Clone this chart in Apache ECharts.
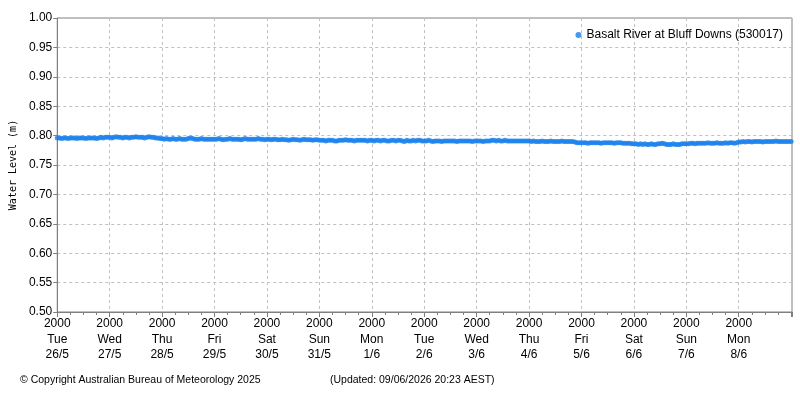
<!DOCTYPE html>
<html>
<head>
<meta charset="utf-8">
<script src="https://cdn.jsdelivr.net/npm/echarts@6/dist/echarts.min.js"></script>
<style>
  html, body { margin: 0; padding: 0; background: #fff; }
  #main { width: 800px; height: 400px; }
</style>
</head>
<body>
<div id="main"></div>
<script>
// x = hours after Tue 26/5 20:00, one reading per hour
var seriesName = 'Basalt River at Bluff Downs (530017)';
var dayNames = ['Tue', 'Wed', 'Thu', 'Fri', 'Sat', 'Sun', 'Mon', 'Tue', 'Wed', 'Thu', 'Fri', 'Sat', 'Sun', 'Mon'];
var dayDates = ['26/5', '27/5', '28/5', '29/5', '30/5', '31/5', '1/6', '2/6', '3/6', '4/6', '5/6', '6/6', '7/6', '8/6'];
var yTicks = [0.50, 0.55, 0.60, 0.65, 0.70, 0.75, 0.80, 0.85, 0.90, 0.95, 1.00];

var level = [
  // 26/5
  0.796,0.796,0.795,0.796,0.796,0.795,0.796,0.796,0.796,0.795,0.796,0.796,0.796,0.795,0.796,0.796,0.796,0.796,0.795,0.796,0.797,0.796,0.797,0.797,
  // 27/5
  0.797,0.796,0.797,0.798,0.797,0.797,0.796,0.797,0.797,0.796,0.797,0.797,0.798,0.797,0.797,0.797,0.796,0.797,0.798,0.797,0.797,0.796,0.796,0.795,
  // 28/5
  0.795,0.794,0.795,0.794,0.794,0.795,0.794,0.794,0.795,0.794,0.794,0.794,0.795,0.796,0.795,0.794,0.794,0.794,0.795,0.794,0.794,0.794,0.794,0.794,
  // 29/5
  0.794,0.794,0.795,0.794,0.793,0.794,0.794,0.795,0.794,0.794,0.794,0.794,0.793,0.794,0.795,0.794,0.794,0.794,0.794,0.794,0.795,0.794,0.794,0.793,
  // 30/5
  0.794,0.794,0.793,0.794,0.794,0.793,0.793,0.794,0.793,0.793,0.792,0.793,0.794,0.793,0.793,0.792,0.793,0.794,0.793,0.793,0.793,0.792,0.793,0.793,
  // 31/5
  0.792,0.792,0.792,0.791,0.792,0.792,0.792,0.791,0.791,0.792,0.792,0.792,0.793,0.792,0.792,0.792,0.791,0.792,0.792,0.792,0.792,0.792,0.791,0.792,
  // 1/6
  0.792,0.791,0.792,0.792,0.791,0.792,0.792,0.791,0.791,0.792,0.792,0.791,0.792,0.792,0.791,0.790,0.792,0.791,0.791,0.792,0.791,0.792,0.792,0.791,
  // 2/6
  0.791,0.791,0.792,0.791,0.790,0.791,0.791,0.791,0.790,0.791,0.791,0.791,0.791,0.791,0.791,0.790,0.791,0.791,0.791,0.791,0.791,0.791,0.790,0.791,
  // 3/6
  0.791,0.791,0.791,0.790,0.791,0.791,0.791,0.792,0.792,0.791,0.792,0.791,0.791,0.792,0.791,0.791,0.791,0.791,0.791,0.791,0.791,0.791,0.791,0.791,
  // 4/6
  0.791,0.790,0.791,0.790,0.790,0.790,0.791,0.790,0.790,0.790,0.791,0.790,0.790,0.790,0.790,0.791,0.790,0.790,0.790,0.790,0.790,0.789,0.788,0.788,
  // 5/6
  0.788,0.788,0.788,0.787,0.788,0.788,0.788,0.788,0.788,0.787,0.788,0.788,0.788,0.788,0.788,0.787,0.788,0.788,0.788,0.787,0.787,0.787,0.787,0.786,
  // 6/6
  0.786,0.786,0.785,0.786,0.785,0.786,0.785,0.785,0.786,0.785,0.785,0.786,0.786,0.787,0.786,0.785,0.785,0.785,0.786,0.785,0.785,0.785,0.786,0.786,
  // 7/6
  0.786,0.786,0.787,0.787,0.786,0.787,0.787,0.787,0.787,0.787,0.788,0.787,0.787,0.787,0.788,0.787,0.787,0.787,0.788,0.787,0.788,0.788,0.787,0.788,
  // 8/6
  0.789,0.789,0.790,0.789,0.790,0.790,0.789,0.790,0.790,0.790,0.790,0.789,0.790,0.790,0.790,0.790,0.790,0.791,0.790,0.790,0.790,0.790,0.790,0.790,
  // 9/6 20:00
  0.790
];

var points = [];
for (var i = 0; i < level.length; i++) {
  points.push([i, level[i]]);
}

var font = 'Liberation Sans';
var chart = echarts.init(document.getElementById('main'));

var option = {
  animation: false,
  backgroundColor: '#ffffff',
  textStyle: { fontFamily: font },
  grid: {
    show: true,
    left: 57,
    right: 8,
    top: 18,
    bottom: 88,
    borderColor: '#808080',
    borderWidth: 1
  },
  legend: {
    right: 12,
    top: 24,
    icon: 'circle',
    itemWidth: 6,
    itemHeight: 6,
    itemGap: 6,
    textStyle: { fontFamily: font, fontSize: 12, color: '#000' },
    data: [seriesName]
  },
  xAxis: {
    type: 'value',
    min: 0,
    max: 336.38,
    interval: 24,
    minorTick: { show: true, splitNumber: 4, length: 3, lineStyle: { color: '#808080' } },
    axisLine: { lineStyle: { color: '#808080' } },
    axisTick: { length: 5, lineStyle: { color: '#808080' } },
    splitLine: { show: true, lineStyle: { color: '#c0c0c0', type: [3, 3] } },
    axisLabel: {
      color: '#000',
      fontFamily: font,
      fontSize: 12,
      lineHeight: 15.5,
      margin: 4,
      showMaxLabel: false,
      formatter: function (v) {
        var d = Math.round(v / 24);
        if (d >= dayNames.length) return '';
        return '2000\n' + dayNames[d] + '\n' + dayDates[d];
      }
    }
  },
  yAxis: {
    type: 'value',
    min: 0.5,
    max: 1.0,
    interval: 0.05,
    name: 'Water Level (m)',
    nameLocation: 'middle',
    nameGap: 36,
    nameRotate: 90,
    nameTextStyle: { fontFamily: 'DejaVu Sans Mono', fontSize: 10, color: '#000' },
    axisLine: { show: true, lineStyle: { color: '#808080' } },
    axisTick: { show: true, length: 4, lineStyle: { color: '#808080' } },
    splitLine: { show: true, lineStyle: { color: '#c0c0c0', type: [3, 3] } },
    axisLabel: {
      color: '#000',
      fontFamily: font,
      fontSize: 12,
      margin: 5,
      formatter: function (v) {
        var t = yTicks.filter(function (y) { return Math.abs(y - v) < 1e-6; });
        return t.length ? t[0].toFixed(2) : '';
      }
    }
  },
  series: [
    {
      name: seriesName,
      type: 'scatter',
      data: points,
      symbol: 'circle',
      symbolSize: 5,
      itemStyle: { color: '#1880ec' }
    }
  ],
  graphic: [
    {
      type: 'text',
      left: 20,
      top: 375,
      style: { text: '\u00a9 Copyright Australian Bureau of Meteorology 2025', fontFamily: font, fontSize: 10.5, fill: '#000' }
    },
    {
      type: 'text',
      left: 330,
      top: 375,
      style: { text: '(Updated: 09/06/2026 20:23 AEST)', fontFamily: font, fontSize: 10.5, fill: '#000' }
    }
  ]
};

chart.setOption(option);
</script>
</body>
</html>
